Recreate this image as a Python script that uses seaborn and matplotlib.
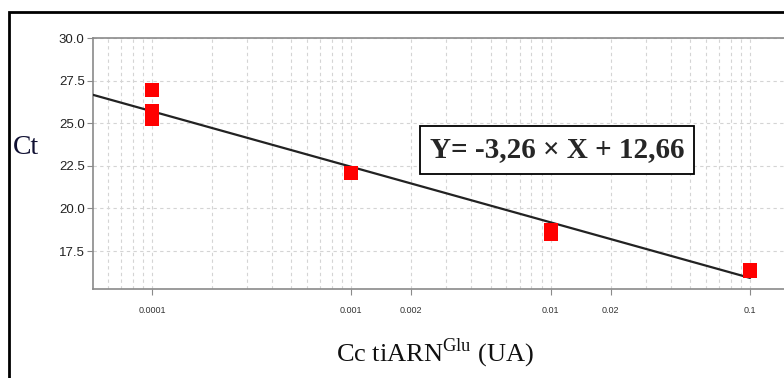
import numpy as np
import pandas as pd
import matplotlib
matplotlib.use("Agg")
import matplotlib.pyplot as plt
import matplotlib.ticker as mticker
from matplotlib.patches import Rectangle
import seaborn as sns

# Data
conc = [0.0001, 0.0001, 0.0001, 0.001, 0.01, 0.01, 0.1]
ct = [26.97, 25.7, 25.25, 22.1, 18.75, 18.5, 16.35]
slope = -3.26
intercept = 12.66
xtick_vals = [0.0001, 0.001, 0.002, 0.01, 0.02, 0.1]
xtick_labels = ["0.0001", "0.001", "0.002", "0.01", "0.02", "0.1"]
ytick_vals = [17.5, 20.0, 22.5, 25.0, 27.5, 30.0]
equation = "Y= -3,26 × X + 12,66"

sns.set_style("white")
plt.rcParams['font.family'] = ['Liberation Sans', 'DejaVu Sans']
plt.rcParams['mathtext.fontset'] = 'custom'
plt.rcParams['mathtext.rm'] = 'Liberation Serif'

fig = plt.figure(figsize=(7.84, 3.78), dpi=100)
ax = fig.add_axes([93/784, (378-289)/378, 1 - 93/784 + 0.0, (289-38)/378])

xmin, xmax = 5.06e-5, 0.148
ax.set_xscale("log")
ax.set_xlim(xmin, xmax)
ax.set_ylim(15.27, 30.0)

# Fit line
xfit = np.logspace(np.log10(xmin), np.log10(0.1), 50)
fit = pd.DataFrame({"x": xfit, "y": slope * np.log10(xfit) + intercept})
sns.lineplot(data=fit, x="x", y="y", ax=ax, color="#222222", lw=1.6, zorder=3)

df = pd.DataFrame({"conc": conc, "ct": ct})
sns.scatterplot(data=df, x="conc", y="ct", ax=ax, marker="s", s=105,
                color="#ff0000", edgecolor="none", zorder=4)

ax.set_xticks(xtick_vals)
ax.set_xticklabels(xtick_labels)
ax.xaxis.set_minor_locator(mticker.LogLocator(base=10, subs=np.arange(2, 10)))
ax.xaxis.set_minor_formatter(mticker.NullFormatter())
ax.set_yticks(ytick_vals)
ax.set_yticklabels([f"{v:.1f}" for v in ytick_vals])

ax.grid(True, which="major", color="#d4d4d4", ls=(0, (3, 3)), lw=0.8)
ax.grid(True, which="minor", axis="x", color="#d4d4d4", ls=(0, (3, 3)), lw=0.8)
ax.set_axisbelow(True)

for sp in ax.spines.values():
    sp.set_color("#8a8a8a")
    sp.set_linewidth(1.2)
ax.spines["right"].set_visible(False)

ax.tick_params(axis="y", which="major", direction="out", length=4, color="#8a8a8a",
               labelsize=9.5, labelcolor="#222222", pad=2, left=True)
ax.tick_params(axis="x", which="major", direction="out", length=4, color="#8a8a8a",
               labelsize=6.5, labelcolor="#333333", pad=8, bottom=True)
ax.tick_params(axis="x", which="minor", length=0)

ax.set_xlabel("")
ax.set_ylabel("")
fig.text(13/784, 1 - 148/378, "Ct", fontsize=20, family="Liberation Serif",
         color="#111133", ha="left", va="center")
fig.text(435/784, 1 - 353/378, r"Cc tiARN$^{\mathrm{Glu}}$ (UA)", fontsize=19,
         family="Liberation Serif", color="#111111", ha="center", va="center")

ax.text(557/784, 1 - 150/378, equation, transform=fig.transFigure,
        fontsize=21, family="Liberation Serif", fontweight="bold",
        ha="center", va="center", zorder=5,
        bbox=dict(boxstyle="square,pad=0.35", facecolor="white",
                  edgecolor="black", lw=1.3))

fig.patches.append(Rectangle((9/784, -0.1), 1.2, (378-12)/378 + 0.1,
                             transform=fig.transFigure, fill=False,
                             edgecolor="black", lw=2))

fig.savefig("out.png", dpi=100)
